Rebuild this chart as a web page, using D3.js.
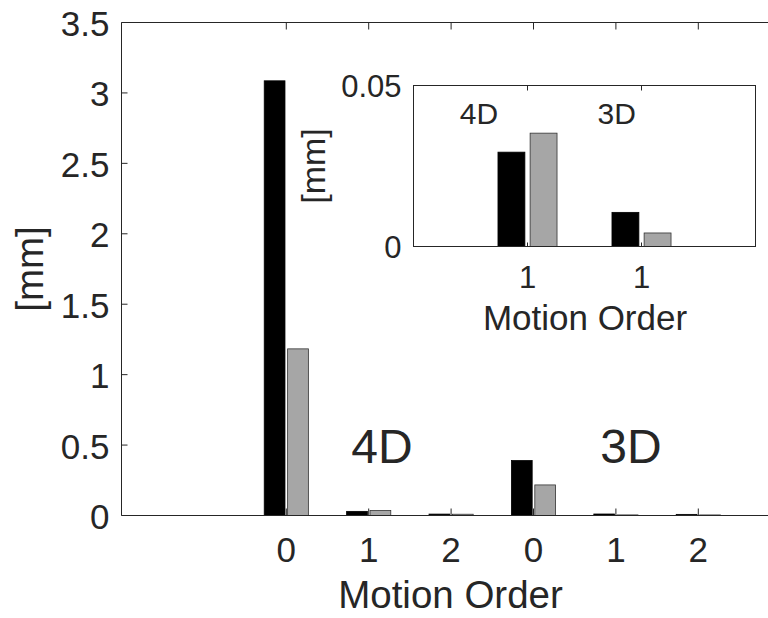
<!DOCTYPE html>
<html><head><meta charset="utf-8">
<script src="https://cdn.jsdelivr.net/npm/d3@7"></script>
<style>
body{margin:0;background:#fff}
svg{display:block}
text{font-family:"Liberation Sans",Arial,Helvetica,sans-serif;fill:#262626}
</style>
</head><body>
<svg id="c" width="768" height="618"></svg>
<script>
// ---- data ----
const orderLabels = ["0","1","2","0","1","2"];
const groupNames = ["4D","3D"];
const seriesBlack = [3.086, 0.0293, 0.010, 0.39, 0.0106, 0.008];
const seriesGray  = [1.183, 0.0352, 0.009, 0.217, 0.0042, 0.004];
const yTicksMain = [0, 0.5, 1, 1.5, 2, 2.5, 3, 3.5];
const insetIdx = [1, 4];           // order-1 bars of 4D and 3D
const insetLabels = ["1", "1"];
const yTicksInset = [0, 0.05];

const svg = d3.select("#c");
const INK = "#262626";
const GRAY = "#a6a6a6";

// ---- main axes ----
const xM = d3.scaleLinear().domain([-1, 8]).range([121.5, 121.5 + 9 * 82.4]);
const yM = d3.scaleLinear().domain([0, 3.5]).range([515.5, 22.5]);
const pos = orderLabels.map((d, i) => i + 1);
const bw = 0.252, off = 0.142;

const main = svg.append("g");
function bars(g, xs, ys, idx, positions, w, o) {
  g.selectAll(null).data(idx).enter().append("rect")
    .attr("x", (d, k) => xs(positions[k] - o - w / 2))
    .attr("width", (d, k) => xs(positions[k] - o + w / 2) - xs(positions[k] - o - w / 2))
    .attr("y", d => ys(seriesBlack[d]))
    .attr("height", d => ys(0) - ys(seriesBlack[d]))
    .attr("fill", "#000").attr("stroke", "#000").attr("stroke-width", 0.8);
  g.selectAll(null).data(idx).enter().append("rect")
    .attr("x", (d, k) => xs(positions[k] + o - w / 2))
    .attr("width", (d, k) => xs(positions[k] + o + w / 2) - xs(positions[k] + o - w / 2))
    .attr("y", d => ys(seriesGray[d]))
    .attr("height", d => ys(0) - ys(seriesGray[d]))
    .attr("fill", GRAY).attr("stroke", "#333").attr("stroke-width", 0.8);
}
bars(main, xM, yM, orderLabels.map((d, i) => i), pos, bw, off);

// main axes lines
const ax = svg.append("g").attr("stroke", INK).attr("stroke-width", 1).attr("fill", "none");
ax.append("line").attr("x1", xM(-1)).attr("x2", 768).attr("y1", yM(0)).attr("y2", yM(0));
ax.append("line").attr("x1", xM(-1)).attr("x2", 768).attr("y1", yM(3.5)).attr("y2", yM(3.5));
ax.append("line").attr("x1", xM(-1)).attr("x2", xM(-1)).attr("y1", yM(0)).attr("y2", yM(3.5));
// ticks
yTicksMain.forEach(t => ax.append("line").attr("x1", xM(-1)).attr("x2", xM(-1) + 6).attr("y1", yM(t)).attr("y2", yM(t)));
pos.forEach(p => {
  ax.append("line").attr("x1", xM(p)).attr("x2", xM(p)).attr("y1", yM(0)).attr("y2", yM(0) - 7);
  ax.append("line").attr("x1", xM(p)).attr("x2", xM(p)).attr("y1", yM(3.5)).attr("y2", yM(3.5) + 7);
});
// tick labels
svg.append("g").selectAll("text").data(yTicksMain).enter().append("text")
  .attr("x", 109.5).attr("y", d => yM(d) + 13.5).attr("text-anchor", "end")
  .attr("font-size", 35).text(d => d3.format("~g")(d));
svg.append("g").selectAll("text").data(orderLabels).enter().append("text")
  .attr("x", (d, i) => xM(pos[i])).attr("y", yM(0) + 46.5).attr("text-anchor", "middle")
  .attr("font-size", 35).text(d => d);
svg.append("text").attr("x", 450.5).attr("y", 608).attr("text-anchor", "middle")
  .attr("font-size", 38.5).text("Motion Order");
svg.append("text").attr("transform", "translate(43,269) rotate(-90)").attr("text-anchor", "middle")
  .attr("font-size", 38.5).text("[mm]");
// group annotations
svg.append("text").attr("x", 382).attr("y", 463).attr("text-anchor", "middle").attr("font-size", 48).text(groupNames[0]);
svg.append("text").attr("x", 631).attr("y", 463).attr("text-anchor", "middle").attr("font-size", 48).text(groupNames[1]);

// ---- inset ----
const xI = d3.scaleLinear().domain([0, 3]).range([413.5, 755.5]);
const yI = d3.scaleLinear().domain([0, 0.05]).range([246.5, 85.5]);
const ins = svg.append("g");
ins.append("rect").attr("x", xI(0)).attr("y", yI(0.05)).attr("width", xI(3) - xI(0)).attr("height", yI(0) - yI(0.05)).attr("fill", "#fff");
const ipos = insetIdx.map((d, k) => k + 1);
bars(ins, xI, yI, insetIdx, ipos, 0.236, 0.141);
const iax = svg.append("g").attr("stroke", INK).attr("stroke-width", 1).attr("fill", "none");
iax.append("rect").attr("x", xI(0)).attr("y", yI(0.05)).attr("width", xI(3) - xI(0)).attr("height", yI(0) - yI(0.05));
ipos.forEach(p => {
  iax.append("line").attr("x1", xI(p)).attr("x2", xI(p)).attr("y1", yI(0)).attr("y2", yI(0) - 4);
  iax.append("line").attr("x1", xI(p)).attr("x2", xI(p)).attr("y1", yI(0.05)).attr("y2", yI(0.05) + 5);
});
svg.append("g").selectAll("text").data(yTicksInset).enter().append("text")
  .attr("x", 401.5).attr("y", d => yI(d) + 11.5).attr("text-anchor", "end")
  .attr("font-size", 31).text(d => d3.format("~g")(d));
svg.append("g").selectAll("text").data(insetLabels).enter().append("text")
  .attr("x", (d, k) => xI(ipos[k])).attr("y", yI(0) + 41.5).attr("text-anchor", "middle")
  .attr("font-size", 31).text(d => d);
svg.append("text").attr("x", 585).attr("y", 330).attr("text-anchor", "middle")
  .attr("font-size", 35).text("Motion Order");
svg.append("text").attr("transform", "translate(324.5,166) rotate(-90)").attr("text-anchor", "middle")
  .attr("font-size", 34).text("[mm]");
svg.append("text").attr("x", 479).attr("y", 124.3).attr("text-anchor", "middle").attr("font-size", 30).text(groupNames[0]);
svg.append("text").attr("x", 616.7).attr("y", 124.3).attr("text-anchor", "middle").attr("font-size", 30).text(groupNames[1]);
</script>
</body></html>
